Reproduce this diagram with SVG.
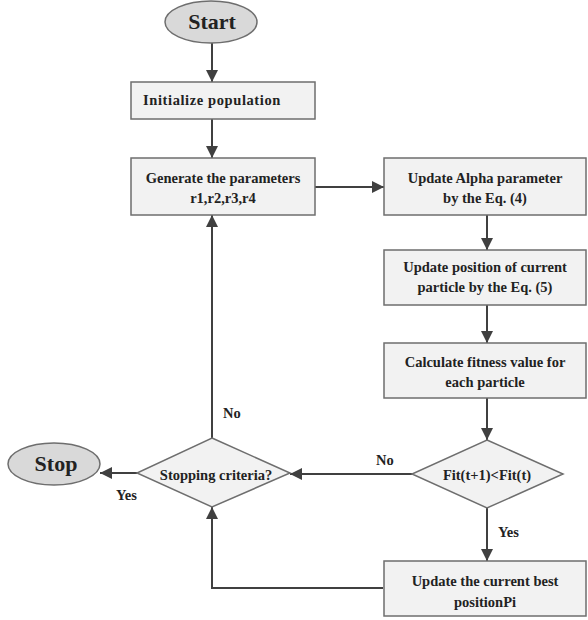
<svg xmlns="http://www.w3.org/2000/svg" width="588" height="620" viewBox="0 0 588 620">
<style>
.box{fill:#f2f2f2;stroke:#6e6e6e;stroke-width:1.5}
.term{fill:#d9d9d9;stroke:#6e6e6e;stroke-width:1.5}
.dia{fill:#f2f2f2;stroke:#6e6e6e;stroke-width:1.5}
.t{font-family:"Liberation Serif","Times New Roman",serif;font-weight:bold;font-size:14.5px;fill:#222;text-anchor:middle}
.big{font-size:22px}
.lbl{font-family:"Liberation Serif","Times New Roman",serif;font-weight:bold;font-size:14.5px;fill:#222}
.c{fill:none;stroke:#404040;stroke-width:2}
</style>
<defs>
<marker id="ah" viewBox="0 0 10 10" refX="10" refY="5" markerWidth="6" markerHeight="6" orient="auto" markerUnits="strokeWidth">
<path d="M0,0 L10,5 L0,10 Z" fill="#404040"/>
</marker>
</defs>
<rect width="588" height="620" fill="#ffffff"/>
<g id="connectors">
<path class="c" d="M212,43 V82" marker-end="url(#ah)"/>
<path class="c" d="M212,119 V158" marker-end="url(#ah)"/>
<path class="c" d="M315,187 H384" marker-end="url(#ah)"/>
<path class="c" d="M487,215 V250" marker-end="url(#ah)"/>
<path class="c" d="M487,305 V343" marker-end="url(#ah)"/>
<path class="c" d="M487,398 V440" marker-end="url(#ah)"/>
<path class="c" d="M412,474 H290" marker-end="url(#ah)"/>
<path class="c" d="M137,473 H100" marker-end="url(#ah)"/>
<path class="c" d="M212,438 V215" marker-end="url(#ah)"/>
<path class="c" d="M487,508 V561" marker-end="url(#ah)"/>
<path class="c" d="M383,588 H212 V507" marker-end="url(#ah)"/>
<text class="lbl" x="223" y="418">No</text>
<text class="lbl" x="376" y="465">No</text>
<text class="lbl" x="116" y="500">Yes</text>
<text class="lbl" x="498" y="537">Yes</text>
</g>
<g id="start">
<ellipse class="term" cx="211" cy="22" rx="46" ry="21"/>
<text class="t big" x="212" y="29">Start</text>
</g>
<g id="init">
<rect class="box" x="131" y="82" width="184" height="37"/>
<text class="t" x="212" y="105" style="letter-spacing:0.6px">Initialize population</text>
</g>
<g id="generate">
<rect class="box" x="131" y="158" width="184" height="57"/>
<text class="t" x="223" y="183">Generate the parameters</text>
<text class="t" x="223" y="203">r1,r2,r3,r4</text>
</g>
<g id="alpha">
<rect class="box" x="384" y="158" width="202" height="57"/>
<text class="t" x="485" y="183">Update Alpha parameter</text>
<text class="t" x="485" y="203">by the Eq. (4)</text>
</g>
<g id="position">
<rect class="box" x="384" y="250" width="202" height="55"/>
<text class="t" x="485" y="272">Update position of current</text>
<text class="t" x="485" y="292">particle by the Eq. (5)</text>
</g>
<g id="fitness">
<rect class="box" x="384" y="343" width="202" height="55"/>
<text class="t" x="485" y="367">Calculate fitness value for</text>
<text class="t" x="485" y="387">each particle</text>
</g>
<g id="fitcheck">
<polygon class="dia" points="487,440 563,474 487,508 412,474"/>
<text class="t" x="487" y="480">Fit(t+1)&lt;Fit(t)</text>
</g>
<g id="stopping">
<polygon class="dia" points="212,438 290,473 212,507 137,473"/>
<text class="t" x="216" y="480">Stopping criteria?</text>
</g>
<g id="stop">
<ellipse class="term" cx="54" cy="464" rx="46" ry="21"/>
<text class="t big" x="56" y="471">Stop</text>
</g>
<g id="best">
<rect class="box" x="384" y="561" width="202" height="55"/>
<text class="t" x="485" y="586">Update the current best</text>
<text class="t" x="485" y="607">positionPi</text>
</g>
</svg>
